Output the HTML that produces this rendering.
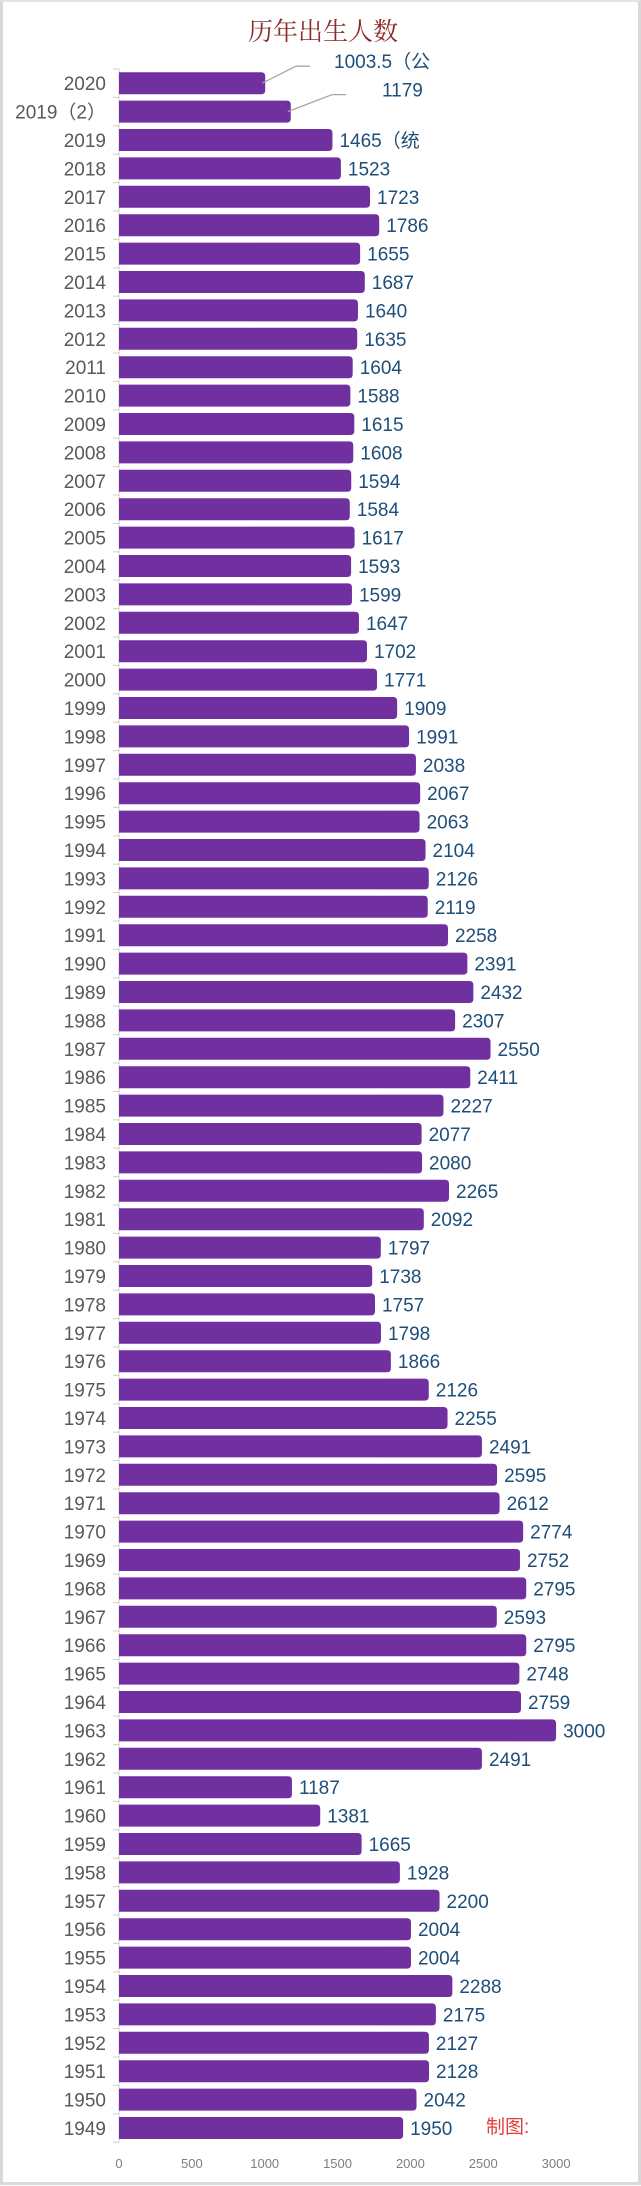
<!DOCTYPE html>
<html><head><meta charset="utf-8"><style>
html,body{margin:0;padding:0;background:#fff}
body{width:641px;height:2186px;overflow:hidden;position:relative}
#frame{position:absolute;left:0;top:0;width:635px;height:2180px;border:3px solid #d9d9d9;border-top:2px solid #e5e5e5}
svg{position:absolute;left:0;top:0}
</style></head><body>
<div id="frame"></div>
<svg id="chart" width="641" height="2186">
<text x="323" y="40" text-anchor="middle" font-family="'Liberation Serif','Noto Serif CJK SC',serif" font-size="25" fill="#8b2b2b">历年出生人数</text>
<text x="486" y="2133" font-family="'Liberation Sans','Noto Sans CJK SC',sans-serif" font-size="19" fill="#e0403a">制图:</text>
</svg>
<script>
const categories=["2020","2019（2）","2019","2018","2017","2016","2015","2014","2013","2012","2011","2010","2009","2008","2007","2006","2005","2004","2003","2002","2001","2000","1999","1998","1997","1996","1995","1994","1993","1992","1991","1990","1989","1988","1987","1986","1985","1984","1983","1982","1981","1980","1979","1978","1977","1976","1975","1974","1973","1972","1971","1970","1969","1968","1967","1966","1965","1964","1963","1962","1961","1960","1959","1958","1957","1956","1955","1954","1953","1952","1951","1950","1949"];
const values=[1003.5,1179,1465,1523,1723,1786,1655,1687,1640,1635,1604,1588,1615,1608,1594,1584,1617,1593,1599,1647,1702,1771,1909,1991,2038,2067,2063,2104,2126,2119,2258,2391,2432,2307,2550,2411,2227,2077,2080,2265,2092,1797,1738,1757,1798,1866,2126,2255,2491,2595,2612,2774,2752,2795,2593,2795,2748,2759,3000,2491,1187,1381,1665,1928,2200,2004,2004,2288,2175,2127,2128,2042,1950];
const labels=["1003.5（公","1179","1465（统"];
const xTicks=[0,500,1000,1500,2000,2500,3000];
const NS="http://www.w3.org/2000/svg";
const svg=document.getElementById('chart');
const x0=119, sc=0.1457, top0=69, step=28.4, bh=22;
const xs=v=>x0+v*sc;
const yc=i=>top0+step*i+step/2;
function mk(t,a){const e=document.createElementNS(NS,t);for(const k in a)e.setAttribute(k,a[k]);svg.appendChild(e);return e;}
const axis=mk('line',{x1:x0,x2:x0,y1:top0,y2:top0+step*categories.length,stroke:'#d0d0d0','stroke-width':1});


for(let i=0;i<=categories.length;i++){
 const t=mk('line',{x1:x0-6,x2:x0,y1:top0+step*i,y2:top0+step*i,stroke:'#d0d0d0'});
 
 
}
categories.forEach((c,i)=>{
 const y=yc(i), v=values[i], w=xs(v)-x0;
 const r=mk('path',{d:`M${x0} ${y-bh/2} H${x0+w-4} Q${x0+w} ${y-bh/2} ${x0+w} ${y-bh/2+4} V${y+bh/2-4} Q${x0+w} ${y+bh/2} ${x0+w-4} ${y+bh/2} H${x0} Z`,fill:'#7030a0'});
 
 
 const yl=mk('text',{x:106,y:y+7,'text-anchor':'end','font-family':"'Liberation Sans','Noto Sans CJK SC',sans-serif",'font-size':19,fill:'#595959'});
 yl.textContent=c;
 
 
 let lx=xs(v)+7, ly=y+7;
 if(i<2){
  const ex=i==0?310:346, ey=y-17;
  const ln=mk('polyline',{points:`${xs(v)-3},${y} ${ex-14},${ey} ${ex},${ey}`,fill:'none',stroke:'#a6a6a6','stroke-width':1.3});
  
  
  lx=i==0?334:382; ly=ey+2;
 }
 const vl=mk('text',{x:lx,y:ly,'font-family':"'Liberation Sans','Noto Sans CJK SC',sans-serif",'font-size':19,fill:'#1f4e79'});
 vl.textContent=i<3?labels[i]:String(v);
 
 
});
xTicks.forEach(t=>{
 const e=mk('text',{x:xs(t),y:2168,'text-anchor':'middle','font-family':"'Liberation Sans',sans-serif",'font-size':13,fill:'#7f7f7f'});
 e.textContent=String(t);
 
 
});
</script>
</body></html>
